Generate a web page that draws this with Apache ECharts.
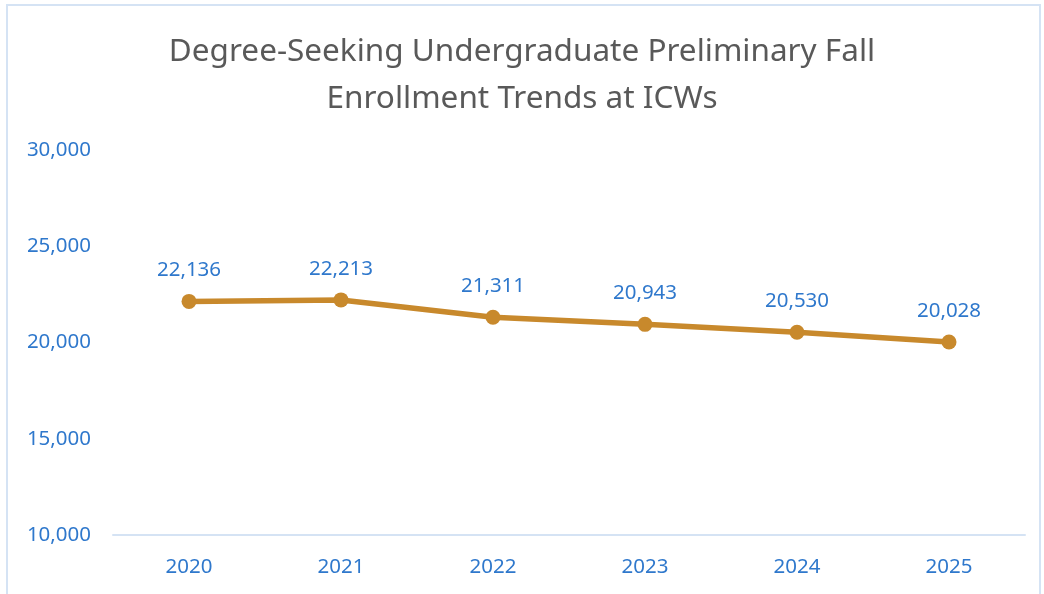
<!DOCTYPE html>
<html>
<head>
<meta charset="utf-8">
<script src="https://cdn.jsdelivr.net/npm/echarts@6/dist/echarts.min.js"></script>
<style>
html, body { margin: 0; padding: 0; background: #fff; }
#main { width: 1044px; height: 594px; }
</style>
</head>
<body>
<div id="main"></div>
<script>
var years = ['2020', '2021', '2022', '2023', '2024', '2025'];
var enrollment = [22136, 22213, 21311, 20943, 20530, 20028];

var blue = '#2F78CC';
var font = 'Noto Sans';
var fmt = function (v) { return Number(v).toLocaleString('en-US'); };

var chart = echarts.init(document.getElementById('main'));
chart.setOption({
	animation : false,
	title : {
		text : 'Degree-Seeking Undergraduate Preliminary Fall\nEnrollment Trends at ICWs',
		left : 'center',
		top : 24,
		textStyle : {
			fontFamily : font,
			fontSize : 31.5,
			fontWeight : 'normal',
			color : '#595959',
			lineHeight : 47
		}
	},
	graphic : [ {
		type : 'rect',
		shape : { x : 7, y : 5, width : 1033, height : 620 },
		style : { fill : 'none', stroke : '#D5E3F4', lineWidth : 2 },
		silent : true
	} ],
	grid : {
		left : 113,
		right : 19,
		top : 150,
		bottom : 59
	},
	xAxis : {
		type : 'category',
		data : years,
		axisLine : { lineStyle : { color : '#D5E3F4', width : 2 } },
		axisTick : { show : false },
		axisLabel : { color : blue, fontFamily : font, fontSize : 20.5, margin : 22 }
	},
	yAxis : {
		type : 'value',
		min : 10000,
		max : 30000,
		interval : 5000,
		splitLine : { show : false },
		axisLine : { show : false },
		axisTick : { show : false },
		axisLabel : { color : blue, fontFamily : font, fontSize : 20.5, margin : 22, formatter : fmt }
	},
	series : [ {
		type : 'line',
		data : enrollment,
		symbol : 'circle',
		symbolSize : 15,
		lineStyle : { color : '#C8892C', width : 5.5 },
		itemStyle : { color : '#C8892C' },
		label : {
			show : true,
			position : 'top',
			distance : 13,
			color : blue,
			fontFamily : font,
			fontSize : 20.5,
			formatter : function (p) { return fmt(p.value); }
		}
	} ]
});
</script>
</body>
</html>
